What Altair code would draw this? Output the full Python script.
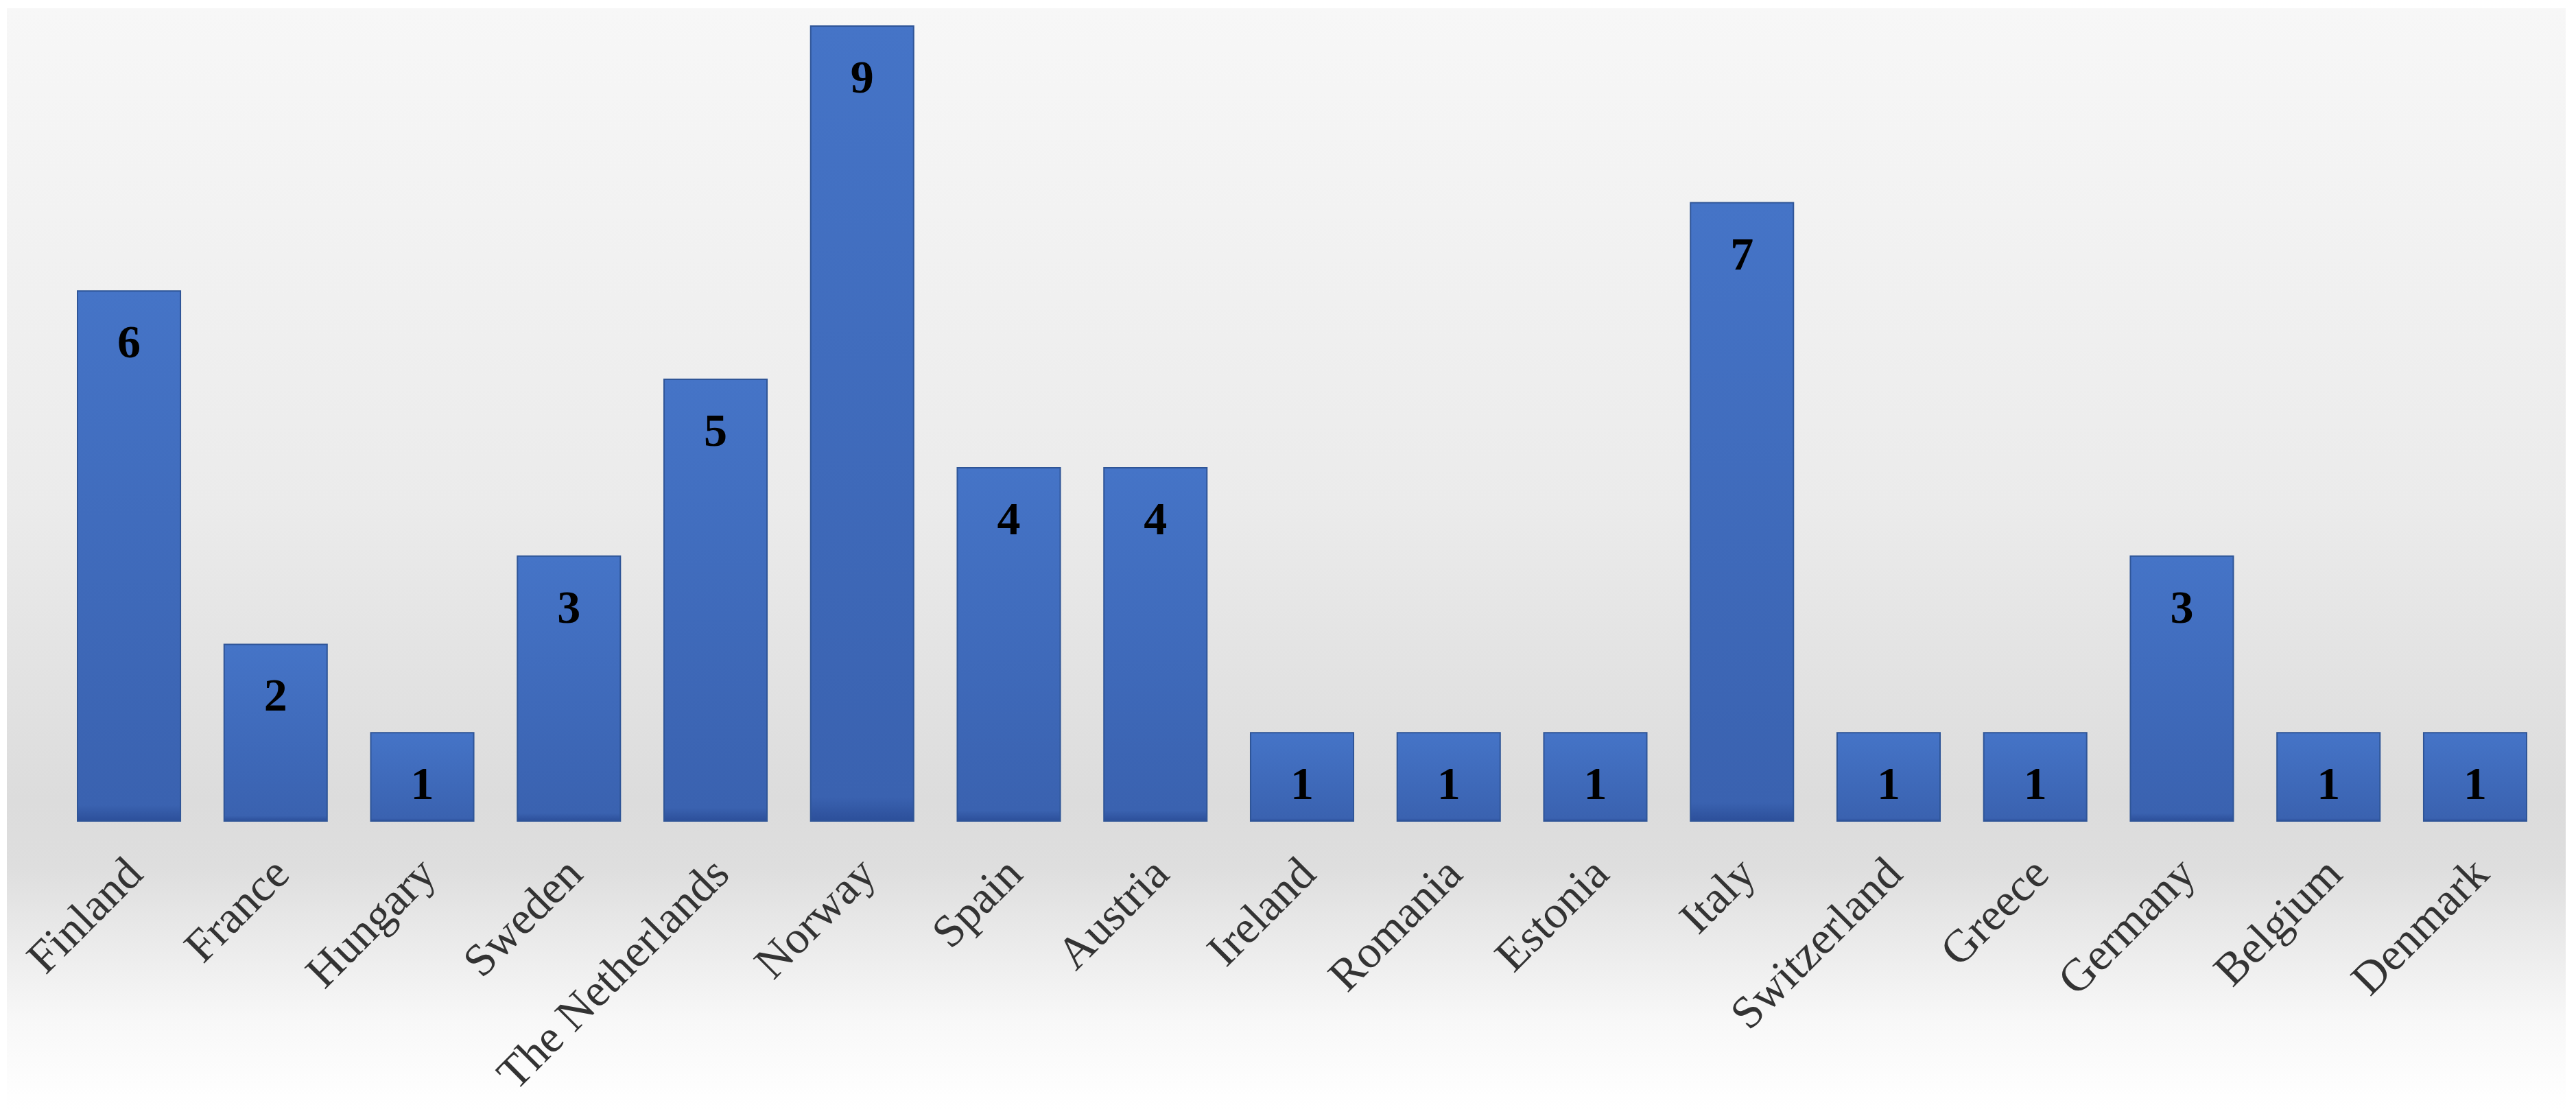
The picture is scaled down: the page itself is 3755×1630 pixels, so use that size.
import altair as alt
import pandas as pd

countries = ["Finland", "France", "Hungary", "Sweden", "The Netherlands", "Norway",
             "Spain", "Austria", "Ireland", "Romania", "Estonia", "Italy",
             "Switzerland", "Greece", "Germany", "Belgium", "Denmark"]
counts = [6, 2, 1, 3, 5, 9, 4, 4, 1, 1, 1, 7, 1, 1, 3, 1, 1]

df = pd.DataFrame({"country": countries, "count": counts})

W = 3570
H = 1159

bg = alt.Chart(pd.DataFrame({"a": [0]})).mark_rect(
    color=alt.Gradient(
        gradient="linear", x1=0, y1=0, x2=0, y2=1,
        stops=[
            alt.GradientStop(color="#f7f7f7", offset=0),
            alt.GradientStop(color="#ebebeb", offset=0.45),
            alt.GradientStop(color="#dcdcdc", offset=0.72),
            alt.GradientStop(color="#dedede", offset=0.78),
            alt.GradientStop(color="#f8f8f8", offset=0.92),
            alt.GradientStop(color="#ffffff", offset=1),
        ],
    )
).encode(x=alt.value(-103), x2=alt.value(3627), y=alt.value(-26), y2=alt.value(1580))

xenc = alt.X("country:N", sort=countries,
             scale=alt.Scale(paddingInner=0.298, paddingOuter=0),
             axis=alt.Axis(title=None, labelAngle=-45, labelAlign="right",
                           labelBaseline="middle", labelFont="Liberation Serif",
                           labelFontSize=67, labelColor="#333333", labelPadding=66,
                           labelOffset=9, labelLimit=0, labelOverlap=False,
                           ticks=False, domain=False, zindex=1))
yenc = alt.Y("count:Q", scale=alt.Scale(domain=[0, 9], nice=False), axis=None)

bars = alt.Chart(df).mark_bar(
    color=alt.Gradient(
        gradient="linear", x1=0, y1=0, x2=0, y2=1,
        stops=[
            alt.GradientStop(color="#4574c7", offset=0),
            alt.GradientStop(color="#3a62b0", offset=0.97),
            alt.GradientStop(color="#2c4f9a", offset=1),
        ],
    ),
    stroke="#2f5597", strokeWidth=2,
).encode(x=xenc, y=yenc)

labels = alt.Chart(df).mark_text(
    font="Liberation Serif", fontWeight="bold", fontSize=68, color="#000000",
    baseline="middle", dy=77,
).encode(x=alt.X("country:N", sort=countries), y=yenc, text="count:Q")

chart = alt.layer(bg, bars, labels).properties(
    width=W, height=H,
    autosize=alt.AutoSizeParams(type="none"),
    padding={"left": 105, "top": 30, "right": 60, "bottom": 424},
    background="#ffffff",
).configure_view(stroke=None)

chart.save("out.html", embed_options={"renderer": "svg", "actions": False})
